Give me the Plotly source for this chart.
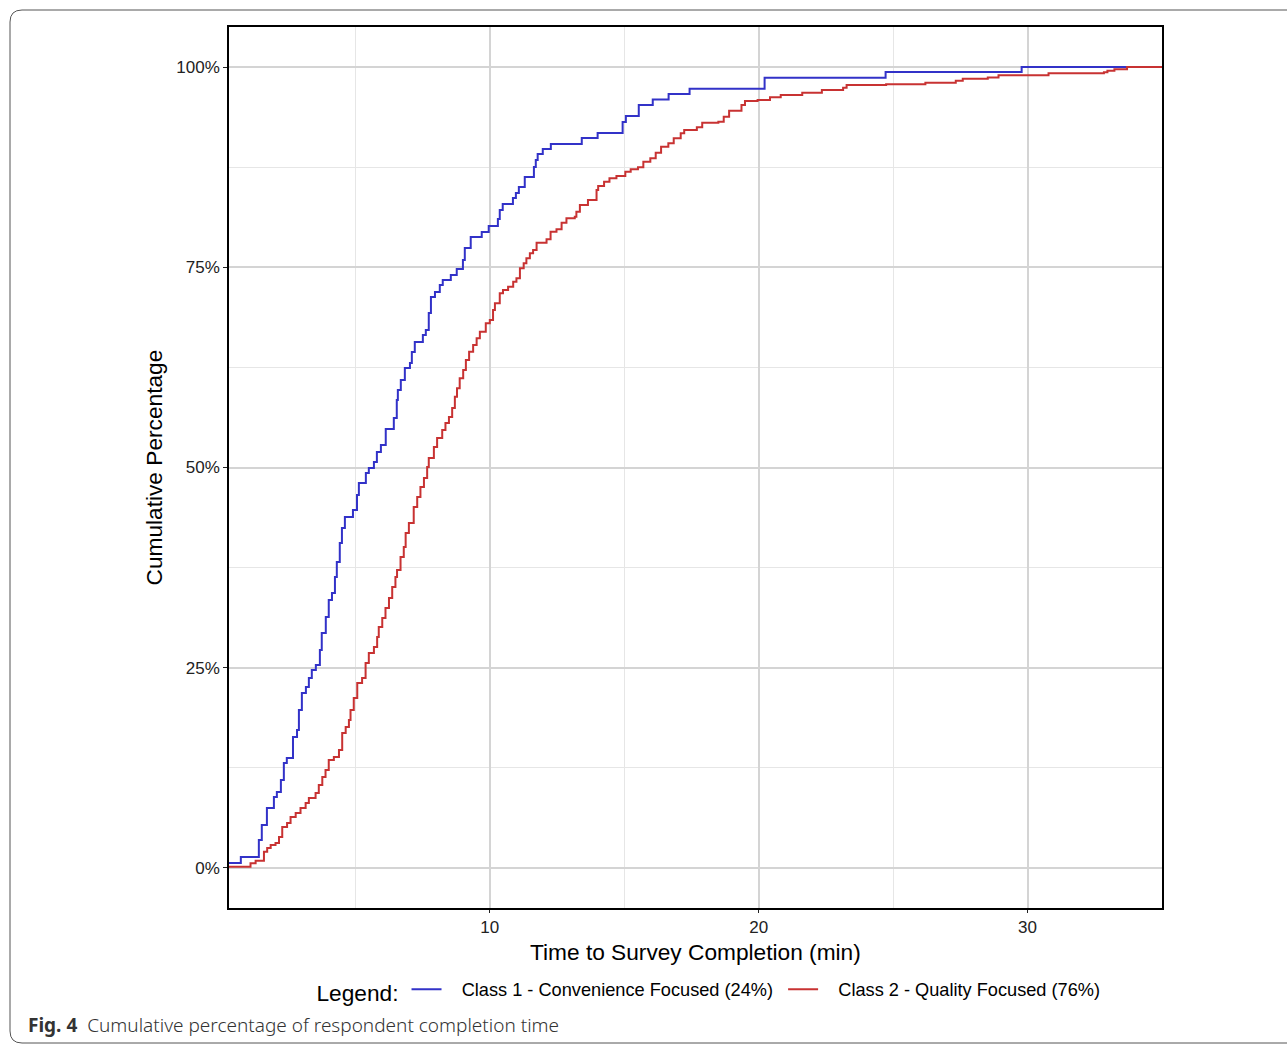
import plotly.graph_objects as go

# ---- data (ECDF step corners) ----
class1_time = [0.30, 0.74, 1.41, 1.52, 1.71, 1.97, 2.08, 2.23, 2.34, 2.45, 2.68, 2.83, 2.90, 3.01,
               3.16, 3.27, 3.38, 3.53, 3.68, 3.75, 3.90, 4.01, 4.13, 4.24, 4.31, 4.42, 4.50, 4.61,
               4.91, 5.06, 5.13, 5.39, 5.50, 5.69, 5.80, 5.95, 6.13, 6.43, 6.54, 6.58, 6.69, 6.84,
               7.03, 7.10, 7.21, 7.51, 7.62, 7.73, 7.81, 7.96, 8.14, 8.25, 8.55, 8.77, 9.00, 9.07,
               9.29, 9.70, 9.96, 10.30, 10.37, 10.48, 10.86, 10.97, 11.08, 11.30, 11.64, 11.71,
               11.78, 11.97, 12.27, 13.42, 14.01, 14.94, 15.06, 15.54, 16.06, 16.65, 17.43, 20.22,
               24.72, 29.78, 35.0]
class1_cum = [0.0062, 0.0137, 0.0350, 0.0537, 0.0749, 0.0886, 0.0949, 0.1099, 0.1311, 0.1373,
              0.1635, 0.1723, 0.1973, 0.2185, 0.2260, 0.2372, 0.2472, 0.2534, 0.2722, 0.2934,
              0.3134, 0.3346, 0.3433, 0.3633, 0.3820, 0.4057, 0.4245, 0.4382, 0.4469, 0.4657,
              0.4807, 0.4931, 0.4994, 0.5069, 0.5194, 0.5281, 0.5481, 0.5618, 0.5843, 0.5968,
              0.6092, 0.6242, 0.6305, 0.6442, 0.6567, 0.6654, 0.6717, 0.6929, 0.7129, 0.7191,
              0.7278, 0.7341, 0.7403, 0.7478, 0.7591, 0.7740, 0.7878, 0.7940, 0.8015, 0.8102,
              0.8215, 0.8290, 0.8365, 0.8427, 0.8502, 0.8627, 0.8752, 0.8839, 0.8914, 0.8976,
              0.9039, 0.9114, 0.9176, 0.9313, 0.9388, 0.9526, 0.9594, 0.9665, 0.9729, 0.9866,
              0.9938, 1.0, 1.0]

class2_time = [0.30, 1.10, 1.29, 1.60, 1.72, 1.85, 2.03, 2.16, 2.28, 2.46, 2.59, 2.78, 2.96, 3.15,
               3.27, 3.52, 3.64, 3.77, 3.89, 4.01, 4.20, 4.39, 4.51, 4.64, 4.76, 4.82, 4.94, 5.07,
               5.25, 5.38, 5.50, 5.69, 5.81, 5.87, 6.00, 6.12, 6.25, 6.37, 6.49, 6.55, 6.68, 6.80,
               6.87, 6.99, 7.17, 7.30, 7.42, 7.55, 7.67, 7.73, 7.92, 8.04, 8.23, 8.35, 8.48, 8.60,
               8.70, 8.78, 8.88, 9.01, 9.11, 9.23, 9.38, 9.51, 9.63, 9.85, 10.00, 10.12, 10.19,
               10.37, 10.49, 10.68, 10.87, 10.99, 11.12, 11.26, 11.36, 11.49, 11.61, 11.74, 12.11,
               12.26, 12.48, 12.67, 12.85, 13.16, 13.22, 13.35, 13.65, 13.97, 14.03, 14.25, 14.45,
               14.71, 15.04, 15.24, 15.51, 15.71, 15.97, 16.17, 16.37, 16.64, 16.84, 17.10, 17.23,
               17.70, 17.90, 18.50, 18.70, 18.90, 19.36, 19.49, 19.96, 20.42, 20.82, 21.62, 22.35,
               23.14, 23.27, 24.74, 26.20, 27.33, 27.59, 28.52, 28.92, 30.78, 32.84, 32.97, 33.23,
               33.70, 35.0]
class2_cum = [0.0016, 0.0059, 0.0091, 0.0203, 0.0250, 0.0287, 0.0312, 0.0387, 0.0512, 0.0562,
              0.0637, 0.0687, 0.0749, 0.0811, 0.0874, 0.0936, 0.1036, 0.1136, 0.1223, 0.1348,
              0.1386, 0.1473, 0.1685, 0.1760, 0.1848, 0.1973, 0.2122, 0.2310, 0.2372, 0.2559,
              0.2684, 0.2759, 0.2884, 0.3009, 0.3121, 0.3246, 0.3371, 0.3508, 0.3633, 0.3720,
              0.3883, 0.4007, 0.4182, 0.4307, 0.4507, 0.4632, 0.4757, 0.4869, 0.5006, 0.5119,
              0.5256, 0.5368, 0.5468, 0.5556, 0.5630, 0.5743, 0.5884, 0.5989, 0.6114, 0.6217,
              0.6342, 0.6446, 0.6529, 0.6613, 0.6695, 0.6800, 0.6841, 0.6966, 0.7050, 0.7175,
              0.7216, 0.7257, 0.7320, 0.7362, 0.7487, 0.7549, 0.7612, 0.7674, 0.7715, 0.7806,
              0.7849, 0.7944, 0.7974, 0.8056, 0.8111, 0.8131, 0.8193, 0.8277, 0.8340, 0.8464,
              0.8514, 0.8568, 0.8611, 0.8639, 0.8693, 0.8723, 0.8748, 0.8818, 0.8860, 0.8930,
              0.9005, 0.9048, 0.9110, 0.9173, 0.9213, 0.9247, 0.9305, 0.9317, 0.9380, 0.9454,
              0.9526, 0.9576, 0.9588, 0.9622, 0.9651, 0.9679, 0.9713, 0.9741, 0.9775, 0.9784,
              0.9804, 0.9829, 0.9853, 0.9871, 0.9896, 0.9921, 0.9934, 0.9954, 0.9971, 1.0, 1.0]

series_names = ["Class 1 - Convenience Focused (24%)", "Class 2 - Quality Focused (76%)"]
series_colors = ["#3232c8", "#c83232"]
y_ticks = [0, 0.25, 0.5, 0.75, 1.0]
y_tick_labels = ["0%", "25%", "50%", "75%", "100%"]
x_ticks = [10, 20, 30]

W, H = 1287, 1046
L, R, T, B = 229, 1162, 27, 908
PW, PH = R - L, B - T
FONT = "Arial, Liberation Sans"
NB = "\u00a0"


def px(x):
    return (x - L) / PW


def py(y):
    return (B - y) / PH


fig = go.Figure()
legend_labels = [NB * 3 + series_names[0] + NB, NB * 3 + series_names[1]]
for t, c, name, col in [(class1_time, class1_cum, legend_labels[0], series_colors[0]),
                        (class2_time, class2_cum, legend_labels[1], series_colors[1])]:
    fig.add_trace(go.Scatter(x=t, y=c, mode="lines", name=name,
                             line=dict(color=col, width=2, shape="hv")))

axis_common = dict(showline=True, linecolor="black", linewidth=1.5, mirror=True,
                   ticks="outside", tickcolor="#222222", tickwidth=1.2,
                   showgrid=True, gridcolor="#d4d4d4", gridwidth=1.6, zeroline=False,
                   tickfont=dict(family=FONT, size=17, color="#222222"))

fig.update_xaxes(range=[0.3, 35], tickvals=x_ticks, ticklen=3,
                 minor=dict(dtick=5, tick0=0, showgrid=True, gridcolor="#e6e6e6", gridwidth=1, ticklen=0),
                 **axis_common)
fig.update_yaxes(range=[-0.05, 1.05], tickvals=y_ticks, ticktext=y_tick_labels, ticklen=4,
                 minor=dict(dtick=0.125, tick0=0, showgrid=True, gridcolor="#e6e6e6", gridwidth=1, ticklen=0),
                 **axis_common)

# rounded outer frame
x0, x1 = px(10), px(1300)
yt, yb = py(10), py(1043)
rx, ry = 12 / PW, 12 / PH
frame = (f"M {x1},{yt} L {x0 + rx},{yt} Q {x0},{yt} {x0},{yt - ry} "
         f"L {x0},{yb + ry} Q {x0},{yb} {x0 + rx},{yb} L {x1},{yb}")
fig.add_shape(type="path", xref="paper", yref="paper", path=frame,
              line=dict(color="#555555", width=1), layer="below")

fig.add_annotation(x=px(153), y=0.5, xref="paper", yref="paper", text="Cumulative Percentage",
                   textangle=-90, showarrow=False, xanchor="center", yanchor="middle",
                   font=dict(family=FONT, size=22.7, color="black"))
fig.add_annotation(x=px(695), y=py(952), xref="paper", yref="paper",
                   text="Time to Survey Completion (min)", showarrow=False,
                   xanchor="center", yanchor="middle",
                   font=dict(family=FONT, size=22.7, color="black"))
fig.add_annotation(x=px(26), y=py(1025), xref="paper", yref="paper",
                   text="<b>Fig. 4</b>  Cumulative percentage of respondent completion time",
                   showarrow=False, xanchor="left", yanchor="middle",
                   font=dict(family="Noto Sans", size=19, color="#333333", weight=300))

fig.update_layout(
    width=W, height=H,
    margin=dict(l=L, r=W - R, t=T, b=H - B),
    paper_bgcolor="white", plot_bgcolor="white",
    font=dict(family=FONT, color="black"),
    showlegend=True,
    legend=dict(orientation="h", x=px(710), y=py(991), xanchor="center", yanchor="middle",
                title=dict(text="Legend:", font=dict(family=FONT, size=22.7, color="black")),
                font=dict(family=FONT, size=18.2, color="black"),
                bgcolor="rgba(0,0,0,0)"),
)

fig.write_html("out.html")
